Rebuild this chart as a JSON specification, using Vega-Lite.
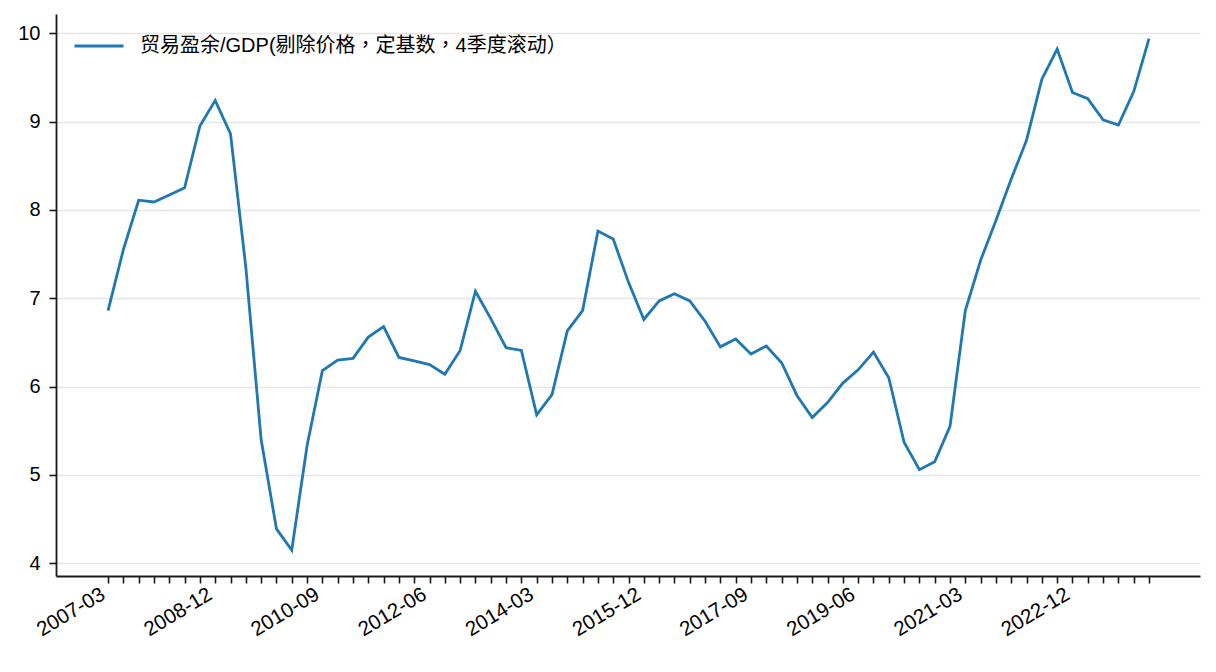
{
  "$schema": "https://vega.github.io/schema/vega-lite/v6.json",
  "autosize": "none",
  "padding": {"left": 56, "top": 14, "right": 16, "bottom": 96},
  "width": 1144,
  "height": 562,
  "background": "white",
  "config": {
    "font": "'Liberation Sans', 'Noto Sans CJK SC', sans-serif",
    "view": {"stroke": null}
  },
  "data": {
    "values": [
      {"q": 0, "date": "2007-03", "value": 6.86, "series": "贸易盈余/GDP(剔除价格，定基数，4季度滚动）"},
      {"q": 1, "date": "2007-06", "value": 7.55, "series": "贸易盈余/GDP(剔除价格，定基数，4季度滚动）"},
      {"q": 2, "date": "2007-09", "value": 8.11, "series": "贸易盈余/GDP(剔除价格，定基数，4季度滚动）"},
      {"q": 3, "date": "2007-12", "value": 8.09, "series": "贸易盈余/GDP(剔除价格，定基数，4季度滚动）"},
      {"q": 4, "date": "2008-03", "value": 8.17, "series": "贸易盈余/GDP(剔除价格，定基数，4季度滚动）"},
      {"q": 5, "date": "2008-06", "value": 8.25, "series": "贸易盈余/GDP(剔除价格，定基数，4季度滚动）"},
      {"q": 6, "date": "2008-09", "value": 8.95, "series": "贸易盈余/GDP(剔除价格，定基数，4季度滚动）"},
      {"q": 7, "date": "2008-12", "value": 9.24, "series": "贸易盈余/GDP(剔除价格，定基数，4季度滚动）"},
      {"q": 8, "date": "2009-03", "value": 8.86, "series": "贸易盈余/GDP(剔除价格，定基数，4季度滚动）"},
      {"q": 9, "date": "2009-06", "value": 7.35, "series": "贸易盈余/GDP(剔除价格，定基数，4季度滚动）"},
      {"q": 10, "date": "2009-09", "value": 5.40, "series": "贸易盈余/GDP(剔除价格，定基数，4季度滚动）"},
      {"q": 11, "date": "2009-12", "value": 4.39, "series": "贸易盈余/GDP(剔除价格，定基数，4季度滚动）"},
      {"q": 12, "date": "2010-03", "value": 4.15, "series": "贸易盈余/GDP(剔除价格，定基数，4季度滚动）"},
      {"q": 13, "date": "2010-06", "value": 5.33, "series": "贸易盈余/GDP(剔除价格，定基数，4季度滚动）"},
      {"q": 14, "date": "2010-09", "value": 6.18, "series": "贸易盈余/GDP(剔除价格，定基数，4季度滚动）"},
      {"q": 15, "date": "2010-12", "value": 6.30, "series": "贸易盈余/GDP(剔除价格，定基数，4季度滚动）"},
      {"q": 16, "date": "2011-03", "value": 6.32, "series": "贸易盈余/GDP(剔除价格，定基数，4季度滚动）"},
      {"q": 17, "date": "2011-06", "value": 6.56, "series": "贸易盈余/GDP(剔除价格，定基数，4季度滚动）"},
      {"q": 18, "date": "2011-09", "value": 6.68, "series": "贸易盈余/GDP(剔除价格，定基数，4季度滚动）"},
      {"q": 19, "date": "2011-12", "value": 6.33, "series": "贸易盈余/GDP(剔除价格，定基数，4季度滚动）"},
      {"q": 20, "date": "2012-03", "value": 6.29, "series": "贸易盈余/GDP(剔除价格，定基数，4季度滚动）"},
      {"q": 21, "date": "2012-06", "value": 6.25, "series": "贸易盈余/GDP(剔除价格，定基数，4季度滚动）"},
      {"q": 22, "date": "2012-09", "value": 6.14, "series": "贸易盈余/GDP(剔除价格，定基数，4季度滚动）"},
      {"q": 23, "date": "2012-12", "value": 6.41, "series": "贸易盈余/GDP(剔除价格，定基数，4季度滚动）"},
      {"q": 24, "date": "2013-03", "value": 7.08, "series": "贸易盈余/GDP(剔除价格，定基数，4季度滚动）"},
      {"q": 25, "date": "2013-06", "value": 6.77, "series": "贸易盈余/GDP(剔除价格，定基数，4季度滚动）"},
      {"q": 26, "date": "2013-09", "value": 6.44, "series": "贸易盈余/GDP(剔除价格，定基数，4季度滚动）"},
      {"q": 27, "date": "2013-12", "value": 6.41, "series": "贸易盈余/GDP(剔除价格，定基数，4季度滚动）"},
      {"q": 28, "date": "2014-03", "value": 5.68, "series": "贸易盈余/GDP(剔除价格，定基数，4季度滚动）"},
      {"q": 29, "date": "2014-06", "value": 5.91, "series": "贸易盈余/GDP(剔除价格，定基数，4季度滚动）"},
      {"q": 30, "date": "2014-09", "value": 6.63, "series": "贸易盈余/GDP(剔除价格，定基数，4季度滚动）"},
      {"q": 31, "date": "2014-12", "value": 6.86, "series": "贸易盈余/GDP(剔除价格，定基数，4季度滚动）"},
      {"q": 32, "date": "2015-03", "value": 7.76, "series": "贸易盈余/GDP(剔除价格，定基数，4季度滚动）"},
      {"q": 33, "date": "2015-06", "value": 7.67, "series": "贸易盈余/GDP(剔除价格，定基数，4季度滚动）"},
      {"q": 34, "date": "2015-09", "value": 7.18, "series": "贸易盈余/GDP(剔除价格，定基数，4季度滚动）"},
      {"q": 35, "date": "2015-12", "value": 6.76, "series": "贸易盈余/GDP(剔除价格，定基数，4季度滚动）"},
      {"q": 36, "date": "2016-03", "value": 6.97, "series": "贸易盈余/GDP(剔除价格，定基数，4季度滚动）"},
      {"q": 37, "date": "2016-06", "value": 7.05, "series": "贸易盈余/GDP(剔除价格，定基数，4季度滚动）"},
      {"q": 38, "date": "2016-09", "value": 6.97, "series": "贸易盈余/GDP(剔除价格，定基数，4季度滚动）"},
      {"q": 39, "date": "2016-12", "value": 6.74, "series": "贸易盈余/GDP(剔除价格，定基数，4季度滚动）"},
      {"q": 40, "date": "2017-03", "value": 6.45, "series": "贸易盈余/GDP(剔除价格，定基数，4季度滚动）"},
      {"q": 41, "date": "2017-06", "value": 6.54, "series": "贸易盈余/GDP(剔除价格，定基数，4季度滚动）"},
      {"q": 42, "date": "2017-09", "value": 6.37, "series": "贸易盈余/GDP(剔除价格，定基数，4季度滚动）"},
      {"q": 43, "date": "2017-12", "value": 6.46, "series": "贸易盈余/GDP(剔除价格，定基数，4季度滚动）"},
      {"q": 44, "date": "2018-03", "value": 6.27, "series": "贸易盈余/GDP(剔除价格，定基数，4季度滚动）"},
      {"q": 45, "date": "2018-06", "value": 5.90, "series": "贸易盈余/GDP(剔除价格，定基数，4季度滚动）"},
      {"q": 46, "date": "2018-09", "value": 5.65, "series": "贸易盈余/GDP(剔除价格，定基数，4季度滚动）"},
      {"q": 47, "date": "2018-12", "value": 5.82, "series": "贸易盈余/GDP(剔除价格，定基数，4季度滚动）"},
      {"q": 48, "date": "2019-03", "value": 6.04, "series": "贸易盈余/GDP(剔除价格，定基数，4季度滚动）"},
      {"q": 49, "date": "2019-06", "value": 6.19, "series": "贸易盈余/GDP(剔除价格，定基数，4季度滚动）"},
      {"q": 50, "date": "2019-09", "value": 6.39, "series": "贸易盈余/GDP(剔除价格，定基数，4季度滚动）"},
      {"q": 51, "date": "2019-12", "value": 6.10, "series": "贸易盈余/GDP(剔除价格，定基数，4季度滚动）"},
      {"q": 52, "date": "2020-03", "value": 5.37, "series": "贸易盈余/GDP(剔除价格，定基数，4季度滚动）"},
      {"q": 53, "date": "2020-06", "value": 5.06, "series": "贸易盈余/GDP(剔除价格，定基数，4季度滚动）"},
      {"q": 54, "date": "2020-09", "value": 5.15, "series": "贸易盈余/GDP(剔除价格，定基数，4季度滚动）"},
      {"q": 55, "date": "2020-12", "value": 5.55, "series": "贸易盈余/GDP(剔除价格，定基数，4季度滚动）"},
      {"q": 56, "date": "2021-03", "value": 6.86, "series": "贸易盈余/GDP(剔除价格，定基数，4季度滚动）"},
      {"q": 57, "date": "2021-06", "value": 7.43, "series": "贸易盈余/GDP(剔除价格，定基数，4季度滚动）"},
      {"q": 58, "date": "2021-09", "value": 7.88, "series": "贸易盈余/GDP(剔除价格，定基数，4季度滚动）"},
      {"q": 59, "date": "2021-12", "value": 8.35, "series": "贸易盈余/GDP(剔除价格，定基数，4季度滚动）"},
      {"q": 60, "date": "2022-03", "value": 8.79, "series": "贸易盈余/GDP(剔除价格，定基数，4季度滚动）"},
      {"q": 61, "date": "2022-06", "value": 9.48, "series": "贸易盈余/GDP(剔除价格，定基数，4季度滚动）"},
      {"q": 62, "date": "2022-09", "value": 9.82, "series": "贸易盈余/GDP(剔除价格，定基数，4季度滚动）"},
      {"q": 63, "date": "2022-12", "value": 9.33, "series": "贸易盈余/GDP(剔除价格，定基数，4季度滚动）"},
      {"q": 64, "date": "2023-03", "value": 9.26, "series": "贸易盈余/GDP(剔除价格，定基数，4季度滚动）"},
      {"q": 65, "date": "2023-06", "value": 9.02, "series": "贸易盈余/GDP(剔除价格，定基数，4季度滚动）"},
      {"q": 66, "date": "2023-09", "value": 8.96, "series": "贸易盈余/GDP(剔除价格，定基数，4季度滚动）"},
      {"q": 67, "date": "2023-12", "value": 9.34, "series": "贸易盈余/GDP(剔除价格，定基数，4季度滚动）"},
      {"q": 68, "date": "2024-03", "value": 9.94, "series": "贸易盈余/GDP(剔除价格，定基数，4季度滚动）"}
    ]
  },
  "mark": {"type": "line", "strokeWidth": 2.8, "strokeJoin": "miter", "clip": false},
  "encoding": {
    "x": {
      "field": "q",
      "type": "quantitative",
      "scale": {"domain": [-3.4, 71.33], "nice": false, "zero": false},
      "axis": {
        "title": null,
        "values": [0,1,2,3,4,5,6,7,8,9,10,11,12,13,14,15,16,17,18,19,20,21,22,23,24,25,26,27,28,29,30,31,32,33,34,35,36,37,38,39,40,41,42,43,44,45,46,47,48,49,50,51,52,53,54,55,56,57,58,59,60,61,62,63,64,65,66,67,68],
        "domain": true,
        "domainColor": "#1a1a1a",
        "domainWidth": 1.8,
        "ticks": true,
        "tickColor": "#1a1a1a",
        "tickWidth": 1.6,
        "tickSize": 7,
        "grid": false,
        "labelAngle": -31,
        "labelAlign": "right",
        "labelBaseline": "bottom",
        "labelPadding": 18,
        "labelFontSize": 20.5,
        "labelColor": "#000000",
        "labelOverlap": false,
        "labelFlush": false,
        "labelBound": false,
        "labelExpr": "datum.value % 7 == 0 ? (2007 + floor(datum.value / 4)) + '-' + ['03','06','09','12'][datum.value % 4] : ''"
      }
    },
    "y": {
      "field": "value",
      "type": "quantitative",
      "scale": {"domain": [3.856, 10.218], "nice": false, "zero": false},
      "axis": {
        "title": null,
        "values": [4, 5, 6, 7, 8, 9, 10],
        "domain": true,
        "domainColor": "#1a1a1a",
        "domainWidth": 1.8,
        "ticks": true,
        "tickColor": "#1a1a1a",
        "tickWidth": 1.6,
        "tickSize": 7,
        "grid": true,
        "gridColor": "#e6e6e6",
        "gridWidth": 1.5,
        "labelFontSize": 20,
        "labelColor": "#000000",
        "labelPadding": 9
      }
    },
    "color": {
      "field": "series",
      "type": "nominal",
      "scale": {"range": ["#1f77b4"]},
      "legend": {
        "title": null,
        "orient": "none",
        "legendX": 17,
        "legendY": 6,
        "padding": 0,
        "symbolType": "stroke",
        "symbolSize": 2401,
        "symbolStrokeWidth": 3,
        "labelFont": "'Liberation Sans', 'Noto Sans CJK TC', sans-serif",
        "labelFontSize": 20,
        "labelColor": "#000000",
        "labelOffset": 15,
        "labelLimit": 800
      }
    }
  }
}
